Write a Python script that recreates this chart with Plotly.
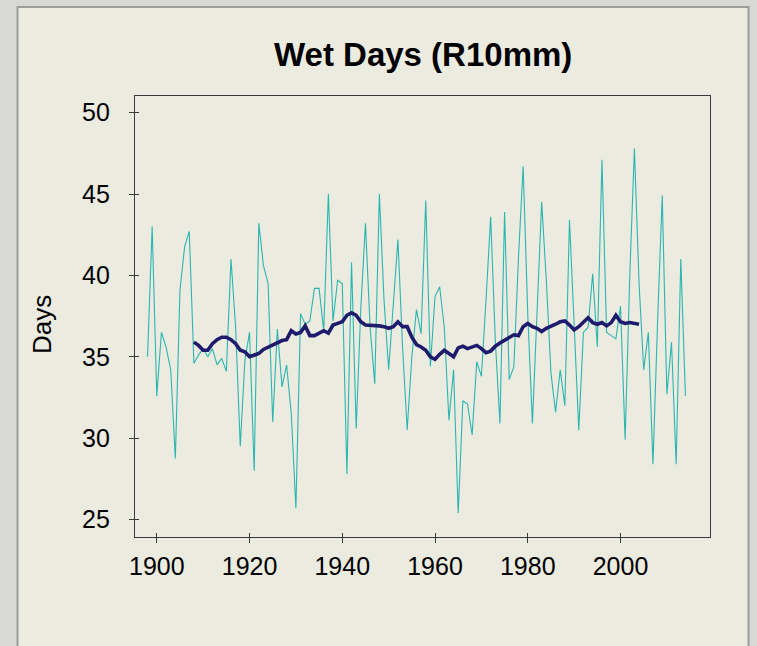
import plotly.graph_objects as go

years = list(range(1898, 2015))
wet_days = [
    35.0, 43.0, 32.6, 36.5, 35.6, 34.2, 28.75, 39.1, 41.75, 42.7,   # 1898-1907
    34.6, 35.1, 35.5, 35.0, 35.5, 34.5, 34.9, 34.1, 41.0, 36.8,     # 1908-1917
    29.5, 34.8, 36.5, 28.0, 43.2, 40.6, 39.5, 31.0, 36.7, 33.15,    # 1918-1927
    34.5, 31.5, 25.7, 37.65, 37.0, 37.2, 39.2, 39.2, 36.6, 45.0,    # 1928-1937
    37.2, 39.7, 39.5, 27.8, 40.8, 30.6, 38.0, 43.2, 36.8, 33.35,    # 1938-1947
    45.0, 38.5, 34.2, 38.1, 42.2, 35.6, 30.5, 35.0, 37.9, 36.4,     # 1948-1957
    44.6, 34.4, 38.7, 39.3, 36.8, 31.1, 34.2, 25.4, 32.3, 32.1,     # 1958-1967
    30.2, 34.7, 33.8, 38.5, 43.6, 36.0, 30.9, 43.9, 33.6, 34.4,     # 1968-1977
    41.1, 46.7, 37.6, 30.9, 38.1, 44.5, 39.7, 34.0, 31.6, 34.2,     # 1978-1987
    32.0, 43.4, 37.0, 30.5, 36.5, 36.8, 40.1, 35.6, 47.1, 36.5,     # 1988-1997
    36.3, 36.1, 38.1, 29.9, 40.0, 47.8, 39.5, 34.2, 36.5, 28.4,     # 1998-2007
    37.2, 44.9, 32.7, 35.9, 28.4, 41.0, 32.6,                       # 2008-2014
]

ma_years = list(range(1908, 2005))
ma_values = [
    35.9, 35.7, 35.4, 35.4, 35.8, 36.05, 36.2, 36.2, 36.05, 35.8,   # 1908-1917
    35.4, 35.3, 35.0, 35.1, 35.2, 35.45, 35.6, 35.75, 35.9, 36.0,   # 1918-1927
    36.05, 36.6, 36.4, 36.5, 36.9, 36.3, 36.3, 36.45, 36.6, 36.45,  # 1928-1937
    36.95, 37.05, 37.15, 37.55, 37.7, 37.55, 37.15, 36.95, 36.95, 36.95,  # 1938-1947
    36.9, 36.85, 36.75, 36.85, 37.15, 36.85, 36.85, 36.2, 35.75, 35.6,    # 1948-1957
    35.4, 35.0, 34.85, 35.15, 35.4, 35.2, 35.0, 35.55, 35.65, 35.5,       # 1958-1967
    35.6, 35.7, 35.5, 35.25, 35.35, 35.65, 35.85, 36.0, 36.2, 36.35,      # 1968-1977
    36.3, 36.85, 37.05, 36.85, 36.75, 36.55, 36.75, 36.85, 37.0, 37.15,   # 1978-1987
    37.2, 36.95, 36.65, 36.85, 37.15, 37.4, 37.1, 37.0, 37.1, 36.9,       # 1988-1997
    37.1, 37.55, 37.15, 37.05, 37.1, 37.05, 37.0,                         # 1998-2004
]

x_ticks = [1900, 1920, 1940, 1960, 1980, 2000]
y_ticks = [25, 30, 35, 40, 45, 50]

title_text = "Wet Days (R10mm)"
y_title = "Days"

PANEL = "#ECEBE0"
OUTER = "#D8D8D4"
AXIS = "#3A3A3A"
FONT = "Liberation Sans, Arial, sans-serif"

fig = go.Figure()
fig.add_trace(go.Scatter(x=years, y=wet_days, mode="lines",
                         line=dict(color="#2AB6B0", width=1.1),
                         showlegend=False, hoverinfo="x+y"))
fig.add_trace(go.Scatter(x=ma_years, y=ma_values, mode="lines",
                         line=dict(color="#1E1B6C", width=3.6),
                         showlegend=False, hoverinfo="x+y"))
# empty trace to carry the inward half of the crossing ticks
fig.add_trace(go.Scatter(x=[], y=[], xaxis="x2", yaxis="y2", showlegend=False))

xr = [1895.3, 2019.3]
yr = [23.93, 51.02]

fig.update_layout(
    width=757, height=646,
    margin=dict(l=135, r=47, t=96, b=109),
    paper_bgcolor=OUTER,
    plot_bgcolor=PANEL,
    font=dict(family=FONT, color="#000000"),
    xaxis=dict(range=xr, tickvals=x_ticks, ticks="outside", ticklen=5,
               tickcolor=AXIS, tickwidth=1, showline=True, linecolor=AXIS,
               linewidth=1.3, mirror=True, showgrid=False, zeroline=False,
               tickfont=dict(size=25, family=FONT), ticklabelstandoff=2),
    yaxis=dict(range=yr, tickvals=y_ticks, ticks="outside", ticklen=5,
               tickcolor=AXIS, tickwidth=1, showline=True, linecolor=AXIS,
               linewidth=1.3, mirror=True, showgrid=False, zeroline=False,
               tickfont=dict(size=25, family=FONT), ticklabelstandoff=14),
    xaxis2=dict(range=xr, tickvals=x_ticks, ticks="inside", ticklen=4,
                tickcolor=AXIS, showticklabels=False, overlaying="x",
                anchor="y2", side="bottom", showline=False, showgrid=False,
                zeroline=False),
    yaxis2=dict(range=yr, tickvals=y_ticks, ticks="inside", ticklen=4,
                tickcolor=AXIS, showticklabels=False, overlaying="y",
                anchor="x2", side="left", showline=False, showgrid=False,
                zeroline=False),
    shapes=[dict(type="rect", xref="paper", yref="paper",
                 x0=-0.2043, x1=1.067, y0=-0.29, y1=1.2018,
                 fillcolor=PANEL, line=dict(color="#9C9C98", width=2),
                 layer="below")],
    annotations=[
        dict(text=f"<b>{title_text}</b>", xref="paper", yref="paper",
             x=0.5, y=1.093, xanchor="center", yanchor="middle",
             showarrow=False, font=dict(size=33, family=FONT, color="#000")),
        dict(text=y_title, xref="paper", yref="paper",
             x=-0.1617, y=0.4807, xanchor="center", yanchor="middle",
             textangle=-90, showarrow=False,
             font=dict(size=26, family=FONT, color="#000")),
    ],
)

fig.write_html("out.html",
               config={"displayModeBar": False},
               post_script="document.body.style.margin='0';document.body.style.padding='0';")
